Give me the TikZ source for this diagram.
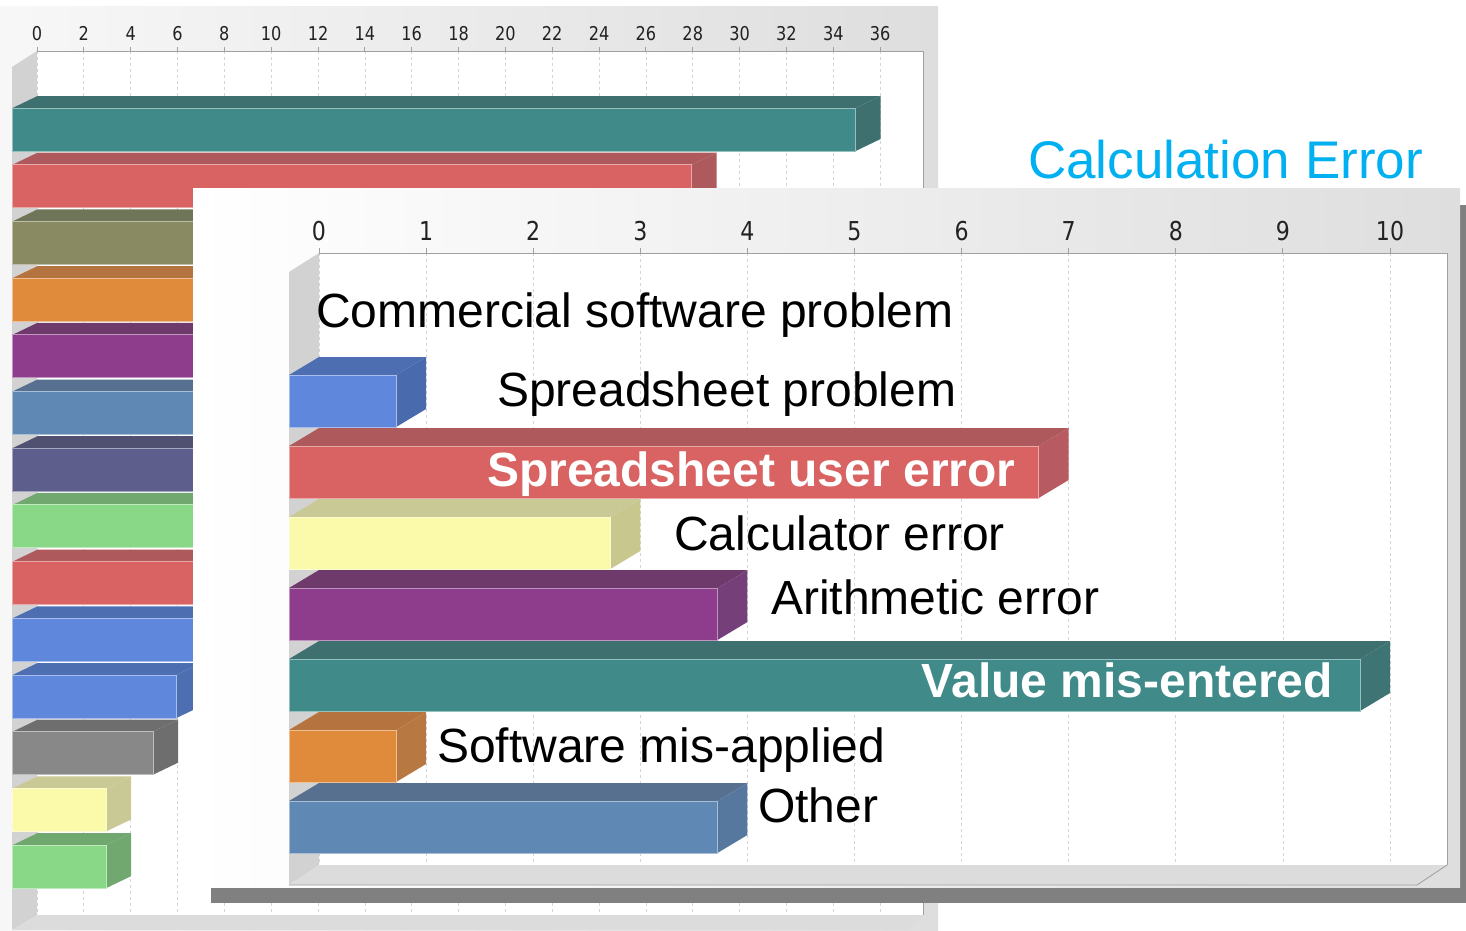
\documentclass[tikz,border=0pt]{standalone}
\usepackage{fontspec}
\usepackage{graphicx}
\setmainfont{Liberation Sans}
\newfontfamily\tickfont{DejaVu Sans}

% palette
\definecolor{titleblue}{HTML}{00B0F0}
\definecolor{tickgray}{HTML}{222222}
\definecolor{axisgray}{HTML}{A0A0A0}
\definecolor{gridgray}{HTML}{D4D4D4}
\definecolor{wallgray}{HTML}{D2D2D2}
\definecolor{floorgray}{HTML}{DCDCDC}
\definecolor{shadowgray}{HTML}{808080}
\definecolor{panelgray}{HTML}{DEDEDE}

\definecolor{tealF}{HTML}{408A8A}\definecolor{tealT}{HTML}{3F7070}\definecolor{tealS}{HTML}{3F7474}
\definecolor{redF}{HTML}{D96262}\definecolor{redT}{HTML}{AE5A5C}\definecolor{redS}{HTML}{B85A62}
\definecolor{oliveF}{HTML}{8A8A62}\definecolor{oliveT}{HTML}{6F7558}
\definecolor{orangeF}{HTML}{E08A3C}\definecolor{orangeT}{HTML}{B5743F}\definecolor{orangeS}{HTML}{B87842}
\definecolor{purpleF}{HTML}{8E3C8C}\definecolor{purpleT}{HTML}{6E3A6C}\definecolor{purpleS}{HTML}{75407A}
\definecolor{steelF}{HTML}{5F88B5}\definecolor{steelT}{HTML}{57708F}\definecolor{steelS}{HTML}{57789E}
\definecolor{slateF}{HTML}{5E5E8C}\definecolor{slateT}{HTML}{505070}
\definecolor{greenF}{HTML}{88D888}\definecolor{greenT}{HTML}{70A870}
\definecolor{blueF}{HTML}{5F88DC}\definecolor{blueT}{HTML}{4D6FB2}\definecolor{blueS}{HTML}{4A6AAE}
\definecolor{grayF}{HTML}{888888}\definecolor{grayT}{HTML}{6E6E6E}
\definecolor{yellowF}{HTML}{FAFAAA}\definecolor{yellowT}{HTML}{C9C996}\definecolor{yellowS}{HTML}{C8C88E}

% 3-D bar: #1 left x, #2 right x (front), #3 top of top face, #4 depth dx,
% #5 top-face height, #6 bottom y, #7 front, #8 top, #9 side colour
\newcommand{\prism}[9]{%
  \fill[#8] (#1,#3+#5) -- (#1+#4,#3) -- (#2+#4,#3) -- (#2,#3+#5) -- cycle;
  \fill[#9] (#2,#3+#5) -- (#2+#4,#3) -- (#2+#4,#6-#5) -- (#2,#6) -- cycle;
  \filldraw[fill=#7, draw=#7!55!white, line width=0.9pt] (#1,#3+#5) rectangle (#2,#6);
}

\tikzset{
  catlabel/.style={anchor=base west, inner sep=0pt, font=\fontsize{48}{56}\selectfont},
  hilabel/.style={inner sep=0pt, text=white, font=\fontsize{48}{56}\selectfont\bfseries},
  fticklabel/.style={anchor=base, inner sep=0pt, text=tickgray, font=\tickfont\fontsize{26}{30}\selectfont},
  bticklabel/.style={anchor=base, inner sep=0pt, text=tickgray, font=\tickfont\fontsize{19}{23}\selectfont},
  gridline/.style={draw=gridgray, dash pattern=on 3pt off 3pt, line width=0.7pt},
  axisline/.style={draw=axisgray, line width=1pt}
}

\begin{document}
\begin{tikzpicture}[x=1pt, y=-1pt]
\useasboundingbox (0,0) rectangle (1466,930);
\clip (0,0) rectangle (1466,930);

% ---------- chart behind: all categories ----------
\shade[left color=white!97!black, right color=panelgray] (0,6) rectangle (938,930);
\fill[white] (37,51) rectangle (923,915);
\foreach \v in {0,2,...,36} {
  \pgfmathsetmacro\xx{37+23.42*\v}
  \draw[gridline] (\xx,51) -- (\xx,915);
  \draw[axisline] (\xx,47) -- (\xx,51);
  \node[bticklabel] (bt\v) at (\xx,40) {\scalebox{0.85}[1]{\v}};
}
\draw[axisline] (37,51) -- (923,51) -- (923,915);
\fill[wallgray] (12,67) -- (37,51) -- (37,915) -- (12,930) -- cycle;
\fill[floorgray] (12,930) -- (37,915) -- (923,915) -- (908,930) -- cycle;

\foreach \i/\v/\cf/\ct in {0/36/tealF/tealT, 1/29/redF/redT, 2/30/oliveF/oliveT,
    3/28/orangeF/orangeT, 4/25/purpleF/purpleT, 5/24/steelF/steelT,
    6/22/slateF/slateT, 7/20/greenF/greenT, 8/18/redF/redT, 9/12/blueF/blueT,
    10/7/blueF/blueT, 11/6/grayF/grayT, 12/4/yellowF/yellowT, 13/4/greenF/greenT} {
  \pgfmathsetmacro\yt{96+56.7*\i}
  \pgfmathsetmacro\xe{12.5+23.42*\v}
  \prism{12.5}{\xe}{\yt}{25}{12}{\yt+55}{\cf}{\ct}{\ct}
}

% ---------- heading ----------
\node[anchor=base west, inner sep=0pt, text=titleblue, font=\fontsize{53}{60}\selectfont]
  (title) at (1028,178) {Calculation Error};

% ---------- chart in front: calculation errors ----------
\fill[shadowgray] (211,205) rectangle (1466,903);
\shade[left color=white, right color=panelgray] (193,188) rectangle (1460,887);
\fill[white] (319,253) rectangle (1447,865);
\foreach \v in {0,...,10} {
  \pgfmathsetmacro\xx{319+107.1*\v}
  \draw[gridline] (\xx,253) -- (\xx,865);
  \draw[axisline] (\xx,248) -- (\xx,253);
  \node[fticklabel] (ft\v) at (\xx,240) {\scalebox{0.85}[1]{\v}};
}
\draw[axisline] (319,253) -- (1447,253) -- (1447,865);
\fill[wallgray] (289,272) -- (319,253) -- (319,865) -- (289,885) -- cycle;
\fill[floorgray] (289,885) -- (319,865) -- (1447,865) -- (1417,885) -- cycle;
\draw[axisgray, line width=0.8pt] (289,885) -- (1417,885) -- (1447,865);

\foreach \i/\v/\cf/\ct/\cs in {1/1/blueF/blueT/blueS, 2/7/redF/redT/redS,
    3/3/yellowF/yellowT/yellowS, 4/4/purpleF/purpleT/purpleS,
    5/10/tealF/tealT/tealS, 6/1/orangeF/orangeT/orangeS, 7/4/steelF/steelT/steelS} {
  \pgfmathsetmacro\yt{286+71*\i}
  \pgfmathsetmacro\xe{289+107.1*\v}
  \prism{289}{\xe}{\yt}{30}{18}{\yt+70}{\cf}{\ct}{\cs}
}

% category names
\node[catlabel] (commercial) at (316,327) {Commercial software problem};
\node[catlabel] (sheetprob)  at (497,406) {Spreadsheet problem};
\node[hilabel, anchor=base west] (sheetuser) at (487,486) {Spreadsheet user error};
\node[catlabel] (calculator) at (674,550) {Calculator error};
\node[catlabel] (arithmetic) at (771,614) {Arithmetic error};
\node[hilabel, anchor=base east] (misentered) at (1333,697) {Value mis-entered};
\node[catlabel] (misapplied) at (437,762) {Software mis-applied};
\node[catlabel] (other)      at (758,822) {Other};
\end{tikzpicture}
\end{document}
